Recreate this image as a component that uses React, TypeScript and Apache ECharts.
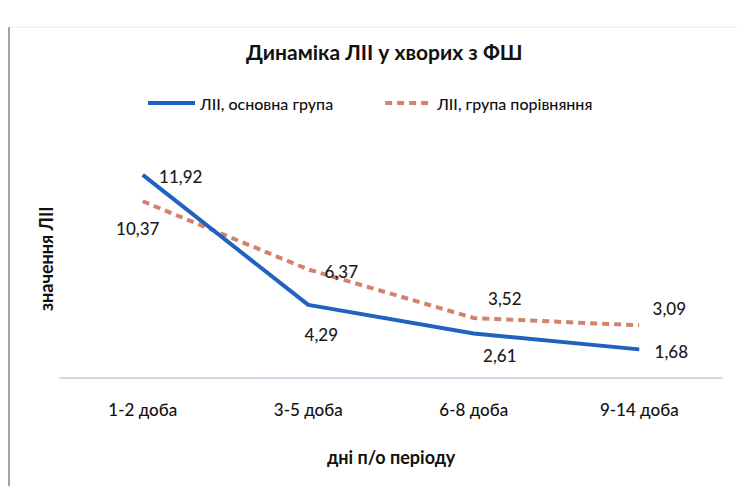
import React, { useEffect, useRef } from "react";
import * as echarts from "echarts";

const categories = ["1-2 доба", "3-5 доба", "6-8 доба", "9-14 доба"];
const mainGroup = [11.92, 4.29, 2.61, 1.68];
const compareGroup = [10.37, 6.37, 3.52, 3.09];
const mainOffsets = [[38, 2], [13, 30], [26, 22], [32, 2]];
const compareOffsets = [[-5, 27], [33, 2], [31, -20], [30, -17]];

const FONT = "Lato, 'Open Sans', sans-serif";

export default function App() {
  const ref = useRef<HTMLDivElement>(null);
  useEffect(() => {
    if (!ref.current) return;
    const chart = echarts.init(ref.current, null, { renderer: "svg" });
    const fmt = (p: any) => String(p.value).replace(".", ",");
    const labelBase = {
      show: true,
      position: "inside",
      fontFamily: FONT,
      fontSize: 17,
      fontWeight: 500,
      color: "#1a1a1a",
      opacity: 1,
      formatter: fmt,
    };
    chart.setOption({
      animation: false,
      backgroundColor: "#ffffff",
      title: {
        text: "Динаміка ЛІІ у хворих з ФШ",
        left: 241,
        top: 36,
        textStyle: { fontFamily: FONT, fontSize: 21, fontWeight: "bold", color: "#111" },
      },
      legend: {
        top: 90,
        left: 141,
        itemWidth: 47,
        itemHeight: 12,
        itemGap: 50,
        lineStyle: { width: 4 },
        textStyle: { fontFamily: FONT, fontSize: 16, fontWeight: 500, color: "#111" },
        data: ["ЛІІ, основна група", "ЛІІ, група порівняння"],
      },
      grid: { left: 60, right: 15, top: 139.4, bottom: 108, containLabel: false },
      xAxis: {
        type: "category",
        data: categories,
        boundaryGap: true,
        axisLine: { lineStyle: { color: "#b9cfe4", width: 1.5 } },
        axisTick: { show: false },
        axisLabel: { fontFamily: FONT, fontSize: 17, fontWeight: 500, color: "#111", margin: 23 },
        name: "дні п/о періоду",
        nameLocation: "middle",
        nameGap: 70,
        nameTextStyle: { fontFamily: FONT, fontSize: 18, fontWeight: "bold", color: "#111" },
      },
      yAxis: {
        type: "value",
        min: 0,
        max: 14,
        axisLine: { show: false },
        axisTick: { show: false },
        axisLabel: { show: false },
        splitLine: { show: false },
        name: "значення ЛІІ",
        nameLocation: "middle",
        nameRotate: 90,
        nameGap: 5,
        nameTextStyle: { fontFamily: FONT, fontSize: 18, fontWeight: "bold", color: "#111" },
      },
      graphic: [
        { type: "line", shape: { x1: 9, y1: 27, x2: 9, y2: 486 }, style: { stroke: "#9aa4ad", lineWidth: 2 } },
        { type: "line", shape: { x1: 9, y1: 27, x2: 737, y2: 27 }, style: { stroke: "#e4e8ec", lineWidth: 1 } },
      ],
      series: [
        {
          name: "ЛІІ, основна група",
          type: "line",
          data: mainGroup.map((v, i) => ({ value: v, label: { offset: mainOffsets[i] } })),
          symbol: "circle",
          symbolSize: 1,
          lineStyle: { color: "#2162c1", width: 4 },
          itemStyle: { color: "rgba(0,0,0,0)", borderWidth: 0 },
          label: labelBase,
          z: 3,
        },
        {
          name: "ЛІІ, група порівняння",
          type: "line",
          data: compareGroup.map((v, i) => ({ value: v, label: { offset: compareOffsets[i] } })),
          symbol: "circle",
          symbolSize: 1,
          lineStyle: { color: "#d4826c", width: 4, type: [7, 5] },
          itemStyle: { color: "rgba(0,0,0,0)", borderWidth: 0 },
          label: labelBase,
          z: 2,
        },
      ],
    });
    return () => chart.dispose();
  }, []);
  return <div ref={ref} style={{ width: 737, height: 486, position: "absolute", left: 0, top: 0 }} />;
}
